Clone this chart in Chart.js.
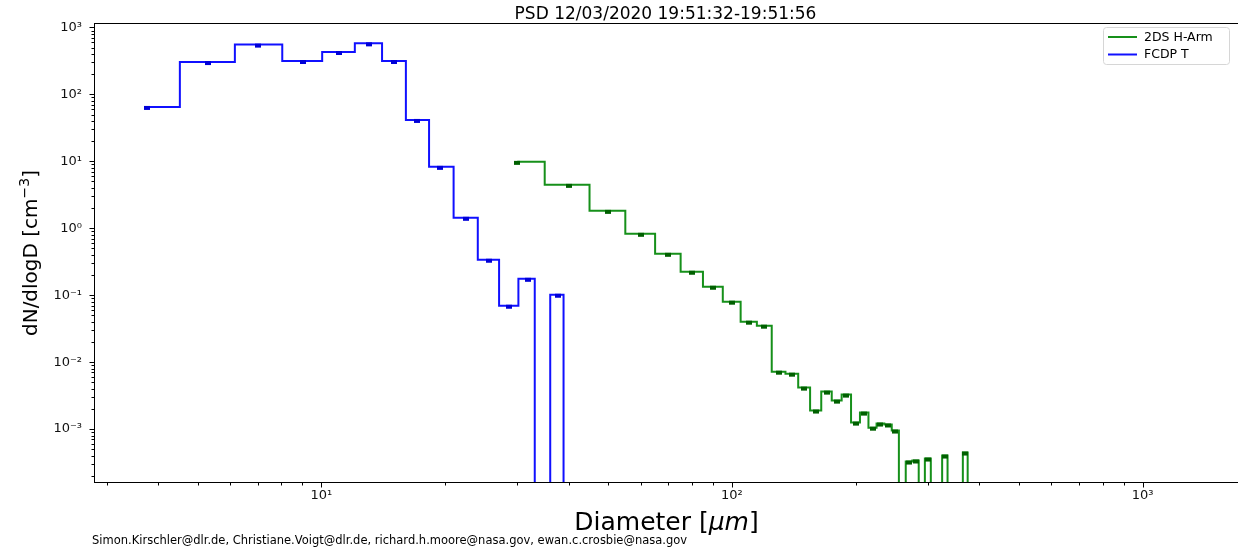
<!DOCTYPE html>
<html><head><meta charset="utf-8">
<script src="https://cdn.jsdelivr.net/npm/chart.js@4.4.1/dist/chart.umd.min.js"></script>
<style>html,body{margin:0;padding:0;overflow:hidden;background:#fff;}canvas{display:block;}</style>
</head><body>
<canvas id="c" width="1244" height="548"></canvas>
<script>
// ---------- data ----------
const titleText = 'PSD 12/03/2020 19:51:32-19:51:56';
const footerText = 'Simon.Kirschler@dlr.de, Christiane.Voigt@dlr.de, richard.h.moore@nasa.gov, ewan.c.crosbie@nasa.gov';
const seriesNames = ['2DS H-Arm', 'FCDP T'];
const xTitle = ['Diameter [', 'μm', ']'];
const yTitle = ['dN/dlogD [cm', '−3', ']'];

// FCDP T : bin centre diameters (µm) and dN/dlogD (cm^-3)
const fcdpDiam = [3.76, 5.29, 7.03, 9.04, 11.06, 13.08, 15.04, 17.1, 19.5, 22.5, 25.6, 28.6, 31.8, 34.4, 37.8, 40.0, 43.5, 47.5];
const fcdpConc = [65.1, 305, 555, 316, 431, 580, 316, 41.6, 8.28, 1.435, 0.339, 0.0697, 0.176, 0, 0.1017, 0, 0, 0];

// 2DS H-Arm
const twoDSDiam = [30, 40, 50, 60, 70, 80, 90, 100, 110, 120, 130, 140, 150, 160, 170, 180, 190, 200, 210, 220, 230, 240, 250, 260, 270, 280, 290, 300, 310, 320, 330, 340, 350, 360, 370, 380, 390, 400];
const twoDSConc = [9.83, 4.46, 1.82, 0.828, 0.416, 0.2244, 0.134, 0.080, 0.0402, 0.0351, 0.00721, 0.00673, 0.00416, 0.00189, 0.00363, 0.00266, 0.00327, 0.00125, 0.00176, 0.00105, 0.00121, 0.00117, 0.000951, 0, 0.000327, 0.000339, 0, 0.000363, 0, 0, 0.000402, 0, 0, 0, 0.000446, 0, 0, 0];

const xRange = [2.796, 1717];
const yRange = [1.563e-4, 1167];
const colors = {twoDS: '#16901a', twoDSMarker: '#006000', fcdp: '#1010ff', fcdpMarker: '#0000d8'};

// ---------- helpers ----------
const ZERO_STANDIN = 1e-8; // zeros fall off the log axis, as in the original
function stepMid(xs, ys) {
  const pts = [];
  const n = xs.length;
  for (let i = 0; i < n; i++) {
    const l = i === 0 ? xs[0] : (xs[i - 1] + xs[i]) / 2;
    const r = i === n - 1 ? xs[i] : (xs[i] + xs[i + 1]) / 2;
    const v = ys[i] > 0 ? ys[i] : ZERO_STANDIN;
    pts.push({x: l, y: v}, {x: r, y: v});
  }
  return pts;
}
function markers(xs, ys) {
  return xs.map((x, i) => ({x, y: ys[i] > 0 ? ys[i] : ZERO_STANDIN}));
}
function markerImg(color) {
  const c = document.createElement('canvas');
  c.width = 6; c.height = 8;
  const g = c.getContext('2d');
  g.fillStyle = color;
  g.fillRect(0, 3, 6, 4);
  return c;
}
const SUP = {'0':'⁰','1':'¹','2':'²','3':'³','4':'⁴','5':'⁵','6':'⁶','7':'⁷','8':'⁸','9':'⁹','-':'⁻'};
function isPow10(v) { const l = Math.log10(v); return Math.abs(l - Math.round(l)) < 1e-9; }
function powLabel(v) {
  if (!isPow10(v)) return '';
  const e = String(Math.round(Math.log10(v)));
  return '10' + e.split('').map(ch => SUP[ch]).join('');
}
function drawParts(ctx, parts, cx, baseline) {
  let total = 0;
  parts.forEach(p => { ctx.font = p.font; p.w = ctx.measureText(p.t).width; total += p.w; });
  let x = cx - total / 2;
  parts.forEach(p => { ctx.font = p.font; ctx.fillText(p.t, x, baseline + (p.dy || 0)); x += p.w; });
}

const FONT = '"DejaVu Sans", "Liberation Sans", sans-serif';

const decor = {
  id: 'decor',
  afterDraw(chart) {
    const {ctx, chartArea: a, scales: {x, y}} = chart;
    ctx.save();
    // spines
    ctx.strokeStyle = '#000';
    ctx.lineWidth = 1;
    ctx.strokeRect(Math.round(a.left) + 0.5, Math.round(a.top) + 0.5, Math.round(a.right - a.left), Math.round(a.bottom - a.top) - 1);
    // tick marks (major & minor, outward)
    ctx.beginPath();
    for (let e = Math.floor(Math.log10(xRange[0])); e <= Math.ceil(Math.log10(xRange[1])); e++) {
      for (let m = 1; m <= 9; m++) {
        const v = m * Math.pow(10, e);
        if (v < xRange[0] || v > xRange[1]) continue;
        const px = Math.round(x.getPixelForValue(v)) + 0.5;
        const len = m === 1 ? 5 : 3;
        ctx.moveTo(px, Math.round(a.bottom) - 0.5);
        ctx.lineTo(px, Math.round(a.bottom) - 0.5 + len);
      }
    }
    for (let e = Math.floor(Math.log10(yRange[0])); e <= Math.ceil(Math.log10(yRange[1])); e++) {
      for (let m = 1; m <= 9; m++) {
        const v = m * Math.pow(10, e);
        if (v < yRange[0] || v > yRange[1]) continue;
        const py = Math.round(y.getPixelForValue(v)) + 0.5;
        const len = m === 1 ? 5 : 3;
        ctx.moveTo(Math.round(a.left) + 0.5, py);
        ctx.lineTo(Math.round(a.left) + 0.5 - len, py);
      }
    }
    ctx.stroke();

    ctx.fillStyle = '#000';
    ctx.textBaseline = 'alphabetic';
    ctx.textAlign = 'left';
    // title
    drawParts(ctx, [{t: titleText, font: '17px ' + FONT}], (a.left + a.right) / 2 - 1, 18.5);
    // x-axis title
    drawParts(ctx, [
      {t: xTitle[0], font: '25px ' + FONT},
      {t: xTitle[1], font: 'italic 25px ' + FONT},
      {t: xTitle[2], font: '25px ' + FONT}
    ], (a.left + a.right) / 2, 530);
    // y-axis title
    ctx.save();
    ctx.translate(37, (a.top + a.bottom) / 2);
    ctx.rotate(-Math.PI / 2);
    drawParts(ctx, [
      {t: yTitle[0], font: '20px ' + FONT},
      {t: yTitle[1], font: '14px ' + FONT, dy: -8},
      {t: yTitle[2], font: '20px ' + FONT}
    ], 0, 0);
    ctx.restore();
    // footer
    ctx.font = '11.5px ' + FONT;
    ctx.fillText(footerText, 92, 544);

    // legend
    const lx = 1103, ly = 27, lw = 126, lh = 37;
    ctx.beginPath();
    if (ctx.roundRect) ctx.roundRect(lx + 0.5, ly + 0.5, lw, lh, 3); else ctx.rect(lx + 0.5, ly + 0.5, lw, lh);
    ctx.fillStyle = 'rgba(255,255,255,0.8)';
    ctx.fill();
    ctx.strokeStyle = '#d6d6d6';
    ctx.lineWidth = 1;
    ctx.stroke();
    const entries = [[seriesNames[0], colors.twoDS], [seriesNames[1], colors.fcdp]];
    entries.forEach(([name, col], i) => {
      const yy = ly + 10 + i * 17.5;
      ctx.strokeStyle = col;
      ctx.lineWidth = 2;
      ctx.beginPath();
      ctx.moveTo(lx + 5, yy);
      ctx.lineTo(lx + 34, yy);
      ctx.stroke();
      ctx.fillStyle = '#000';
      ctx.font = '12.5px ' + FONT;
      ctx.textBaseline = 'middle';
      ctx.fillText(name, lx + 41, yy + 0.5);
    });
    ctx.restore();
  }
};

new Chart(document.getElementById('c'), {
  type: 'scatter',
  data: {
    datasets: [
      {label: seriesNames[0], data: stepMid(twoDSDiam, twoDSConc), showLine: true, borderColor: colors.twoDS, borderWidth: 2, pointRadius: 0, borderJoinStyle: 'miter', order: 4},
      {label: seriesNames[0] + ' markers', data: markers(twoDSDiam, twoDSConc), showLine: false, pointStyle: markerImg(colors.twoDSMarker), pointRadius: 3, order: 3},
      {label: seriesNames[1], data: stepMid(fcdpDiam, fcdpConc), showLine: true, borderColor: colors.fcdp, borderWidth: 2, pointRadius: 0, borderJoinStyle: 'miter', order: 2},
      {label: seriesNames[1] + ' markers', data: markers(fcdpDiam, fcdpConc), showLine: false, pointStyle: markerImg(colors.fcdpMarker), pointRadius: 3, order: 1}
    ]
  },
  options: {
    responsive: false,
    animation: false,
    events: [],
    devicePixelRatio: 1,
    layout: {padding: {left: 0, top: 23, right: 4, bottom: 0}},
    plugins: {legend: {display: false}, tooltip: {enabled: false}, title: {display: false}},
    scales: {
      x: {
        type: 'logarithmic', min: xRange[0], max: xRange[1],
        grid: {display: false, drawTicks: false, tickLength: 0},
        border: {display: false},
        ticks: {autoSkip: false, maxRotation: 0, padding: 5, color: '#111', font: {family: 'DejaVu Sans', size: 13}, callback: v => powLabel(v)},
        afterFit: s => { s.height = 65; }
      },
      y: {
        type: 'logarithmic', min: yRange[0], max: yRange[1],
        grid: {display: false, drawTicks: false, tickLength: 0},
        border: {display: false},
        ticks: {autoSkip: false, padding: 12, color: '#111', font: {family: 'DejaVu Sans', size: 13}, callback: v => powLabel(v)},
        afterFit: s => { s.width = 94; }
      }
    }
  },
  plugins: [decor]
});
</script>
</body></html>
